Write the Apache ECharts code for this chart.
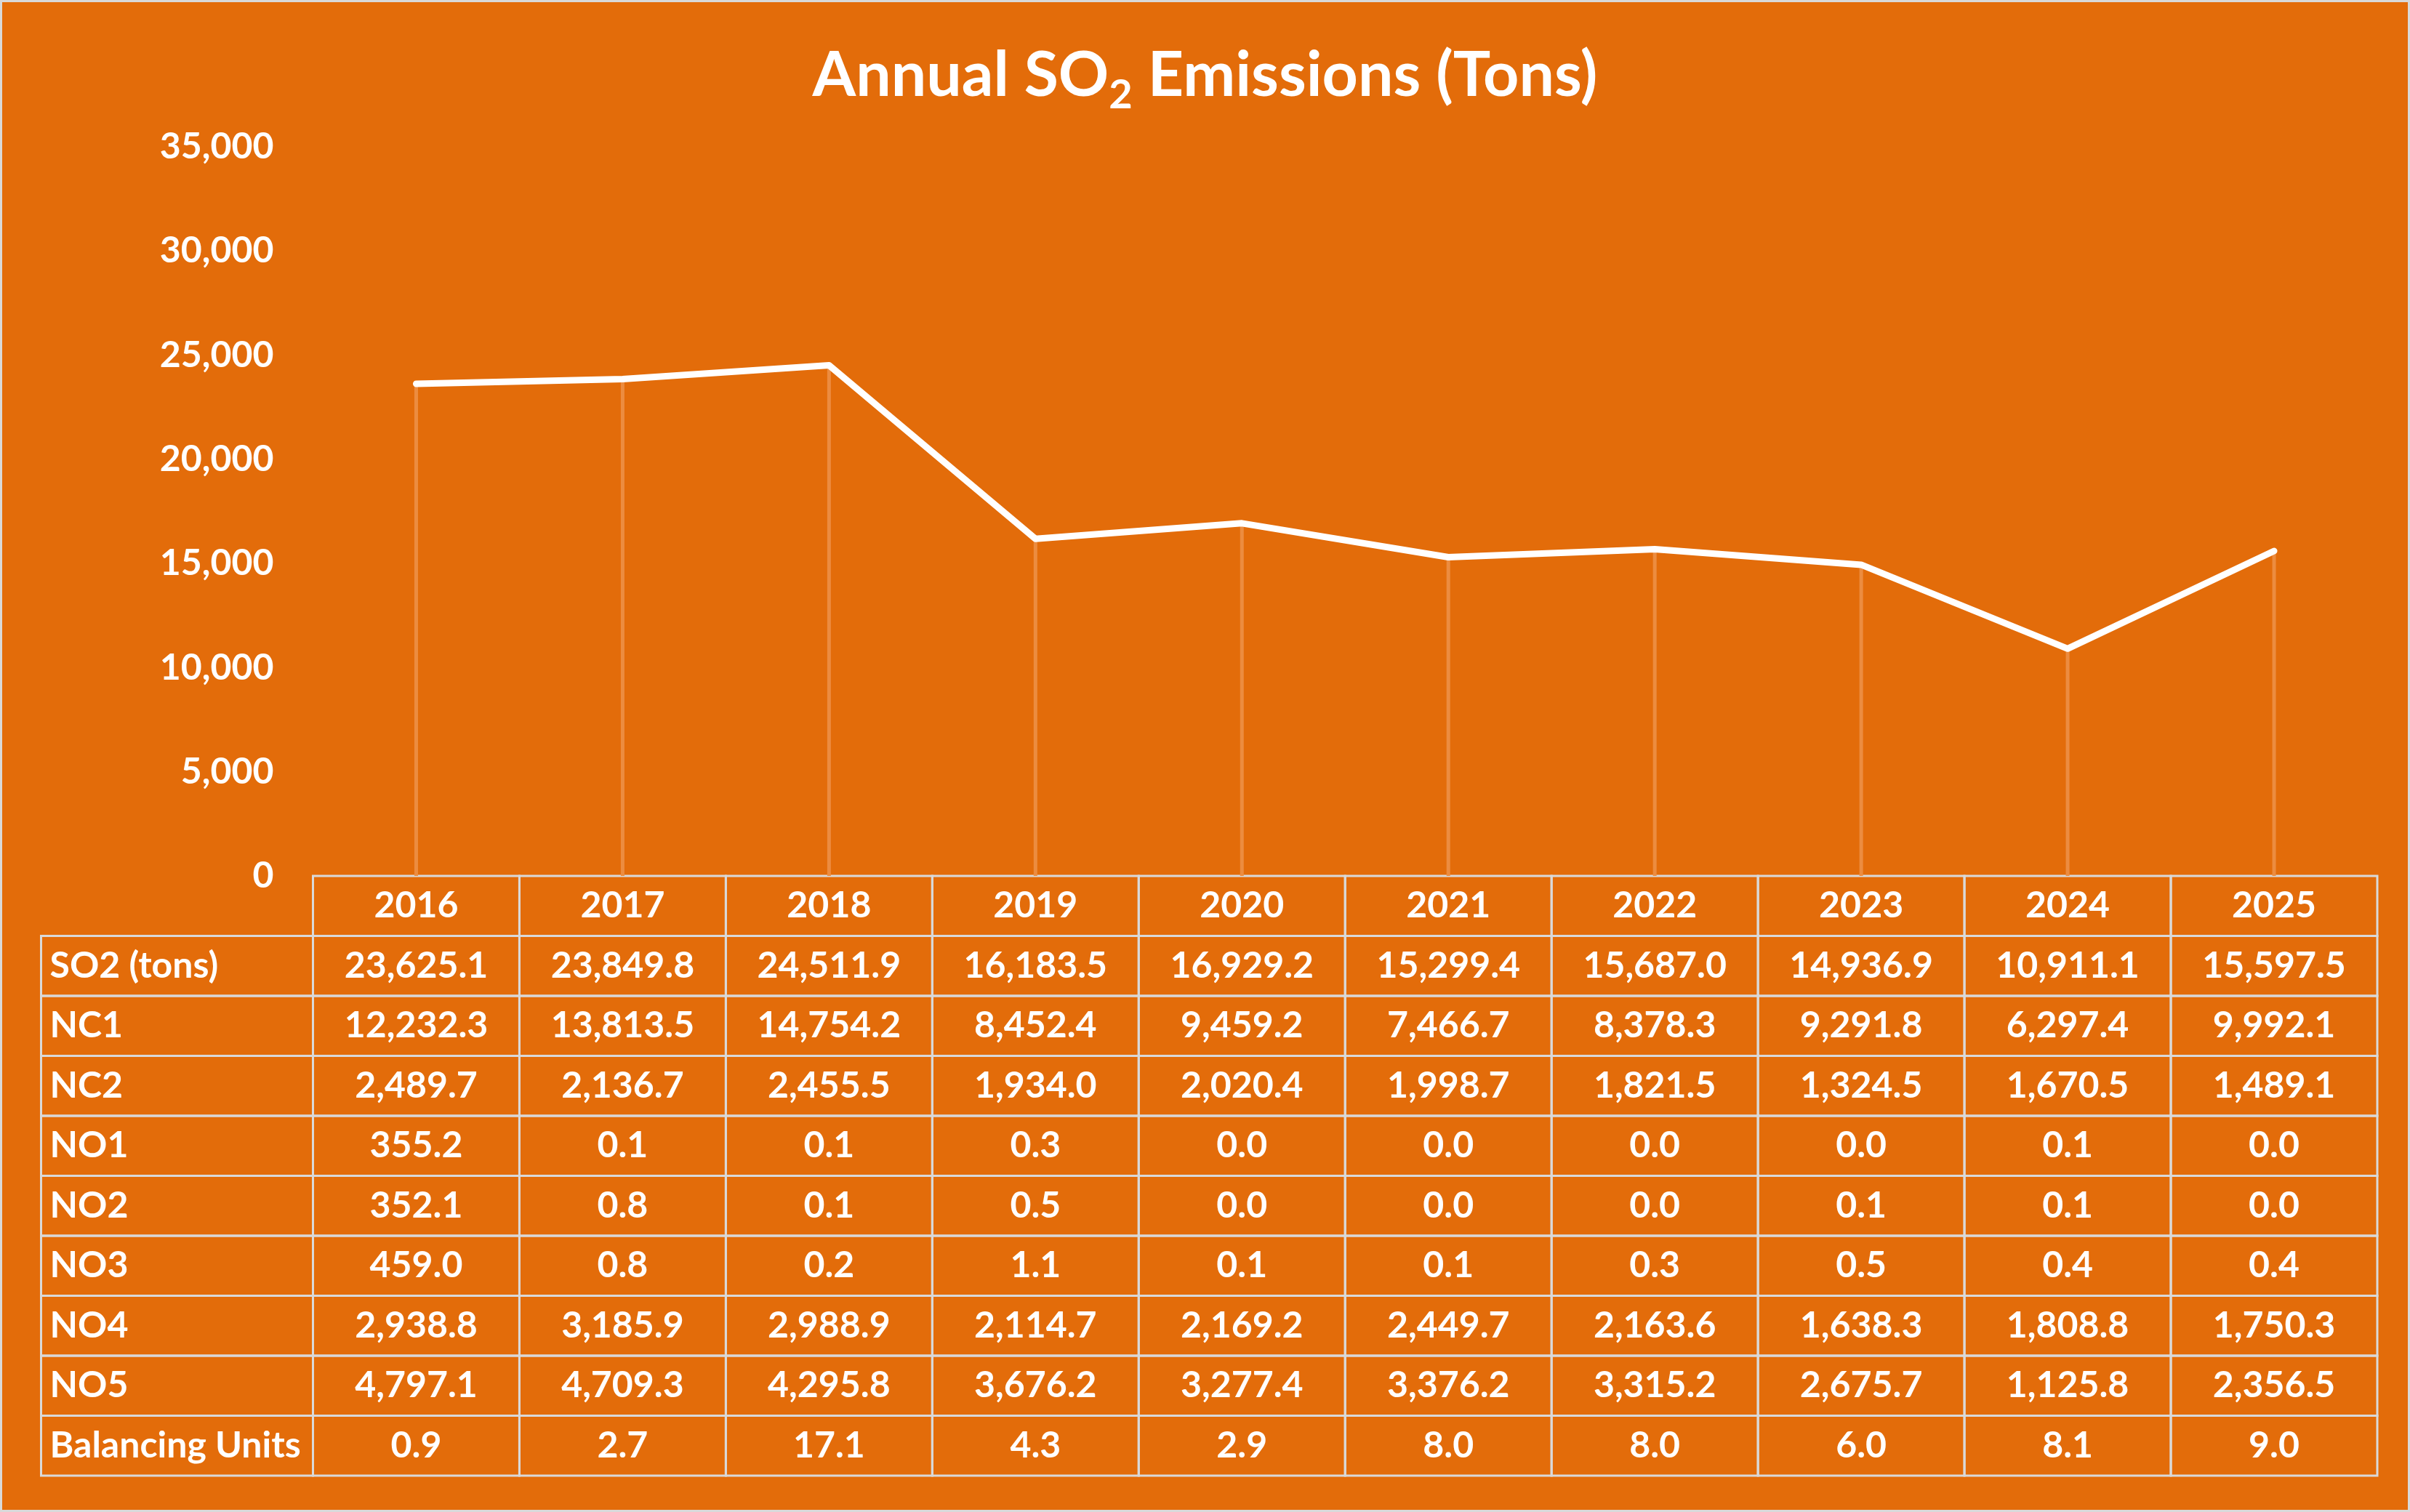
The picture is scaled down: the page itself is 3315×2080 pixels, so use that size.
<!DOCTYPE html>
<html>
<head>
<meta charset="utf-8">
<script src="https://cdn.jsdelivr.net/npm/echarts@6/dist/echarts.min.js"></script>
<style>
html,body{margin:0;padding:0;background:#E36C0A;}
#chart{width:3315px;height:2080px;}
</style>
</head>
<body>
<div id="chart"></div>
<script>
// ---------- data ----------
const years = ['2016','2017','2018','2019','2020','2021','2022','2023','2024','2025'];
const rowNames = ['SO2 (tons)','NC1','NC2','NO1','NO2','NO3','NO4','NO5','Balancing Units'];
const so2 = [23625.1, 23849.8, 24511.9, 16183.5, 16929.2, 15299.4, 15687.0, 14936.9, 10911.1, 15597.5];
const nc1 = [12232.3, 13813.5, 14754.2, 8452.4, 9459.2, 7466.7, 8378.3, 9291.8, 6297.4, 9992.1];
const nc2 = [2489.7, 2136.7, 2455.5, 1934.0, 2020.4, 1998.7, 1821.5, 1324.5, 1670.5, 1489.1];
const no1 = [355.2, 0.1, 0.1, 0.3, 0.0, 0.0, 0.0, 0.0, 0.1, 0.0];
const no2 = [352.1, 0.8, 0.1, 0.5, 0.0, 0.0, 0.0, 0.1, 0.1, 0.0];
const no3 = [459.0, 0.8, 0.2, 1.1, 0.1, 0.1, 0.3, 0.5, 0.4, 0.4];
const no4 = [2938.8, 3185.9, 2988.9, 2114.7, 2169.2, 2449.7, 2163.6, 1638.3, 1808.8, 1750.3];
const no5 = [4797.1, 4709.3, 4295.8, 3676.2, 3277.4, 3376.2, 3315.2, 2675.7, 1125.8, 2356.5];
const balancing = [0.9, 2.7, 17.1, 4.3, 2.9, 8.0, 8.0, 6.0, 8.1, 9.0];
const yTicks = {min: 0, max: 35000, interval: 5000};

const tableRows = [so2, nc1, nc2, no1, no2, no3, no4, no5, balancing];

// ---------- style ----------
const FONT = 'Lato, "Open Sans", sans-serif';
const BG = '#E36C0A';
const BORDER = '#D9D9D9';
const LABEL_W = 374;

const fmt = new Intl.NumberFormat('en-US', {minimumFractionDigits: 1, maximumFractionDigits: 1});
const fmtInt = new Intl.NumberFormat('en-US');

// table cells: [col, row, kind] kind 0 = value/header cell, 1 = row label cell
const cells = [];
for (let c = 0; c < years.length; c++) cells.push([c, 0, 0]);
for (let r = 0; r < tableRows.length; r++) {
  cells.push([0, r + 1, 1]);
  for (let c = 0; c < years.length; c++) cells.push([c, r + 1, 0]);
}

function cellText(c, r, kind) {
  if (r === 0) return years[c];
  if (kind === 1) return rowNames[r - 1];
  return fmt.format(tableRows[r - 1][c]);
}

const chart = echarts.init(document.getElementById('chart'), null, {renderer: 'canvas'});

const option = {
  backgroundColor: BG,
  animation: false,
  title: {
    text: '{a|Annual SO}{s|2}{a| Emissions (Tons)}',
    left: 'center',
    top: 44,
    textStyle: {
      rich: {
        a: {fontSize: 86, fontWeight: 'bold', color: '#fff', fontFamily: FONT},
        s: {fontSize: 56, fontWeight: 'bold', color: '#fff', fontFamily: FONT, padding: [54, 0, 0, 0]}
      }
    }
  },
  graphic: [{
    type: 'rect', z: -10, silent: true,
    shape: {x: 1.5, y: 1.5, width: 3312, height: 2077},
    style: {fill: null, stroke: BORDER, lineWidth: 3}
  }],
  grid: [
    {left: 430.5, right: 45, top: 202, bottom: 875},
    {left: 430.5, right: 45, top: 1205, bottom: 50}
  ],
  xAxis: [
    {type: 'category', gridIndex: 0, data: years, boundaryGap: true,
     axisLine: {show: false}, axisTick: {show: false}, axisLabel: {show: false}, splitLine: {show: false}},
    {type: 'category', gridIndex: 1, data: years, boundaryGap: true, show: false}
  ],
  yAxis: [
    {type: 'value', gridIndex: 0, min: yTicks.min, max: yTicks.max, interval: yTicks.interval,
     axisLine: {show: false}, axisTick: {show: false}, splitLine: {show: false},
     axisLabel: {color: '#fff', fontSize: 50, fontWeight: 'bold', fontFamily: FONT, margin: 54,
                 formatter: v => fmtInt.format(v)}},
    {type: 'category', gridIndex: 1, data: [''].concat(rowNames), inverse: true, show: false}
  ],
  series: [
    {
      type: 'bar', xAxisIndex: 0, yAxisIndex: 0, data: so2, barWidth: 5, z: 2,
      itemStyle: {color: '#EC8C40'}, silent: true
    },
    {
      type: 'line', xAxisIndex: 0, yAxisIndex: 0, data: so2, symbol: 'none', z: 3,
      lineStyle: {color: '#fff', width: 9, cap: 'round', join: 'round'}
    },
    {
      type: 'custom', xAxisIndex: 1, yAxisIndex: 1, data: cells, silent: true,
      renderItem: function (params, api) {
        const c = api.value(0), r = api.value(1), kind = api.value(2);
        const pt = api.coord([c, r]);
        const sz = api.size([1, 1]);
        let x = pt[0] - sz[0] / 2, y = pt[1] - sz[1] / 2, w = sz[0], h = sz[1];
        let tx = pt[0], align = 'center';
        if (kind === 1) {
          x = params.coordSys.x - LABEL_W; w = LABEL_W; tx = x + 12; align = 'left';
        }
        return {
          type: 'group',
          children: [
            {type: 'rect', shape: {x: x, y: y, width: w, height: h},
             style: {fill: null, stroke: BORDER, lineWidth: 3}},
            {type: 'text', x: tx, y: pt[1],
             style: {text: cellText(c, r, kind), fill: '#fff', fontSize: 50, fontWeight: 'bold',
                     fontFamily: FONT, textAlign: align, textVerticalAlign: 'middle'}}
          ]
        };
      }
    }
  ]
};
chart.setOption(option);
</script>
</body>
</html>
